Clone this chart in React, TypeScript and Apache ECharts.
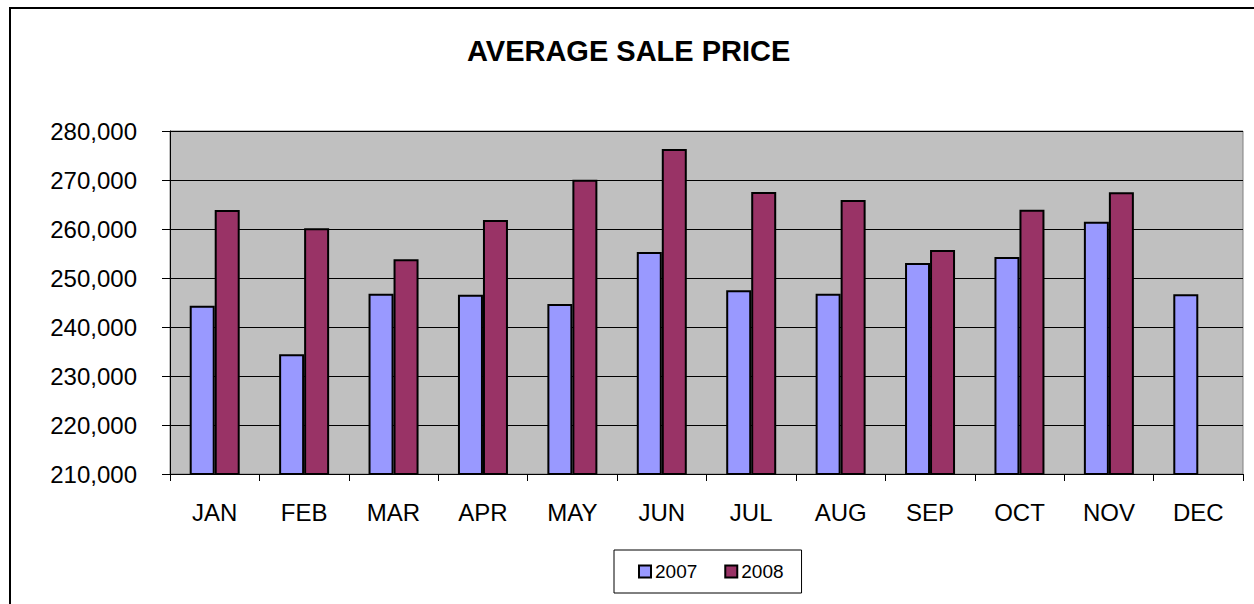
import React, { useEffect, useRef } from "react";
import * as echarts from "echarts";

const months = ["JAN", "FEB", "MAR", "APR", "MAY", "JUN", "JUL", "AUG", "SEP", "OCT", "NOV", "DEC"];
const values2007 = [244350, 234420, 246800, 246600, 244690, 255310, 247480, 246800, 253060, 254290, 261500, 246670];
const values2008: (number | null)[] = [263880, 260140, 253810, 261840, 270070, 276330, 267550, 265920, 255710, 263950, 267480, null];
const seriesNames = ["2007", "2008"];
const titleText = "AVERAGE SALE PRICE";

const FONT = "'Liberation Sans', Arial, sans-serif";

export default function App() {
  const ref = useRef<HTMLDivElement>(null);
  useEffect(() => {
    if (!ref.current) return;
    const chart = echarts.init(ref.current, undefined, { renderer: "svg" });
    chart.setOption({
      animation: false,
      backgroundColor: "#ffffff",
      title: {
        text: titleText,
        left: 467,
        top: 36,
        padding: 0,
        textStyle: { fontFamily: FONT, fontSize: 29, fontWeight: "bold", color: "#000" },
      },
      graphic: [
        {
          type: "rect",
          shape: { x: 10, y: 8, width: 1400, height: 800 },
          style: { fill: "none", stroke: "#000", lineWidth: 2 },
          silent: true,
        },
      ],
      legend: {
        data: seriesNames,
        left: 614,
        top: 550,
        padding: [12, 18, 12, 24],
        itemGap: 27,
        itemWidth: 12,
        itemHeight: 12,
        icon: "rect",
        borderColor: "#000",
        borderWidth: 1,
        backgroundColor: "#fff",
        textStyle: { fontFamily: FONT, fontSize: 19, color: "#000", padding: [0, 0, 0, -1] },
        itemStyle: { borderColor: "#000", borderWidth: 2 },
      },
      grid: {
        left: 170,
        right: 11,
        top: 131,
        bottom: 604 - 474,
        show: true,
        backgroundColor: "#C0C0C0",
        borderColor: "#808080",
        borderWidth: 1,
      },
      xAxis: {
        type: "category",
        data: months,
        axisLine: { show: true, lineStyle: { color: "#000", width: 1 } },
        axisTick: { show: true, length: 7, lineStyle: { color: "#000" } },
        axisLabel: { fontFamily: FONT, fontSize: 24, color: "#000", margin: 26 },
        splitLine: { show: false },
      },
      yAxis: {
        type: "value",
        min: 210000,
        max: 280000,
        interval: 10000,
        axisLine: { show: true, lineStyle: { color: "#000", width: 1 } },
        axisTick: { show: true, length: 8, lineStyle: { color: "#000" } },
        axisLabel: {
          fontFamily: FONT,
          fontSize: 24,
          color: "#000",
          margin: 33,
          formatter: (v: number) => v.toLocaleString("en-US"),
        },
        splitLine: { show: true, lineStyle: { color: "#000", width: 1 } },
      },
      series: [
        {
          name: seriesNames[0],
          type: "bar",
          data: values2007,
          barWidth: 25,
          barGap: "0%",
          itemStyle: { color: "#9999FF", borderColor: "#000", borderWidth: 2 },
        },
        {
          name: seriesNames[1],
          type: "bar",
          data: values2008,
          barWidth: 25,
          barGap: "0%",
          itemStyle: { color: "#993366", borderColor: "#000", borderWidth: 2 },
        },
      ],
    });
    return () => chart.dispose();
  }, []);
  return (
    <div
      ref={ref}
      style={{ position: "fixed", left: 0, top: 0, width: 1254, height: 604 }}
    />
  );
}
